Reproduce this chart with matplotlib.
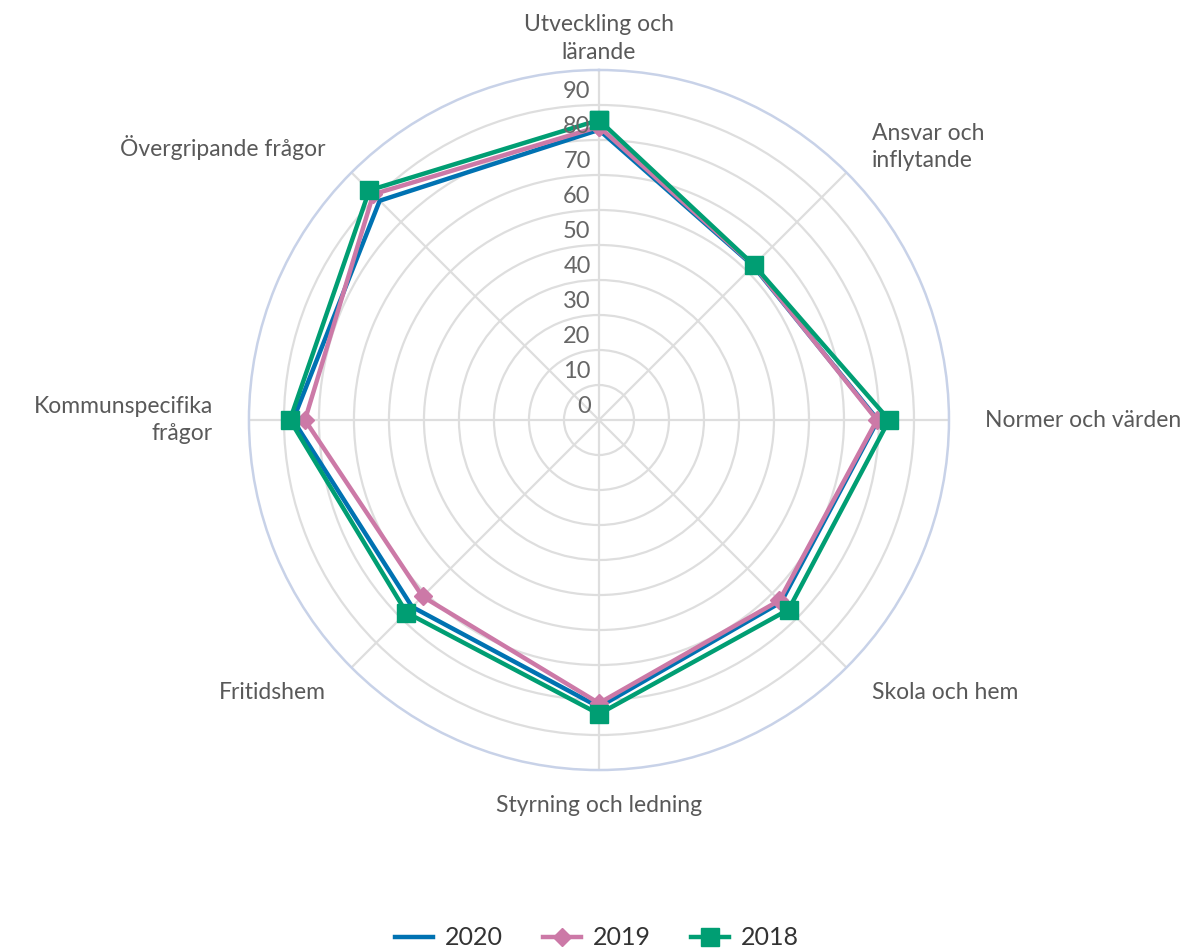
import numpy as np
import matplotlib
matplotlib.use("Agg")
from matplotlib import pyplot as plt

plt.rcParams['font.family'] = ['Lato', 'DejaVu Sans']

categories = ["Utveckling och\nlärande", "Ansvar och\ninflytande", "Normer och värden",
              "Skola och hem", "Styrning och ledning", "Fritidshem",
              "Kommunspecifika\nfrågor", "Övergripande frågor"]
years = ["2020", "2019", "2018"]
values_2020 = [82.9, 62.3, 79.7, 73.6, 82.0, 75.5, 87.4, 88.6]
values_2019 = [83.8, 62.5, 79.4, 72.9, 80.9, 71.3, 84.0, 91.2]
values_2018 = [85.7, 62.6, 82.9, 76.6, 84.0, 77.8, 88.3, 92.8]
rticks = [0, 10, 20, 30, 40, 50, 60, 70, 80, 90]

colors = ["#0072b2", "#cc79a7", "#009e73"]
markers = [None, "D", "s"]
msizes = [0, 9, 13]

n = len(categories)
angles = np.arange(n) * 2 * np.pi / n

fig = plt.figure(figsize=(11.94, 9.51), dpi=100)
ax = fig.add_axes([0.2085, 0.1903, 0.5863, 0.7361], projection='polar')
ax.set_theta_zero_location('N')
ax.set_theta_direction(-1)
ax.set_ylim(0, 100)

ax.set_xticks(angles)
ax.set_xticklabels([])
ax.set_yticks(rticks[1:])
ax.set_yticklabels([])
ax.grid(True, color="#dedede", lw=1.6)
ax.spines['polar'].set_color("#c8d2e8")
ax.spines['polar'].set_linewidth(1.8)

# radial value labels left of the top spoke
for v in rticks:
    ax.annotate(str(v), xy=(0, v), xytext=(-6, 10), textcoords='offset points',
                ha='right', va='center', fontsize=17, color="#666666")

# category labels
for a, lab in zip(angles, categories):
    deg = np.degrees(a)
    if np.isclose(deg, 0):
        ax.text(a, 102, lab, ha='center', va='bottom', fontsize=16.5, color="#595959",
                linespacing=1.4)
    elif np.isclose(deg, 180):
        ax.text(a, 107, lab, ha='center', va='top', fontsize=16.5, color="#595959")
    else:
        ha = 'left' if deg < 180 else 'right'
        ax.text(a, 110.3, lab, ha=ha, va='center', fontsize=16.5, color="#595959",
                linespacing=1.4)

series = [values_2020, values_2019, values_2018]
for vals, yr, c, m, ms in zip(series, years, colors, markers, msizes):
    th = np.append(angles, angles[0])
    r = np.append(vals, vals[0])
    ax.plot(th, r, color=c, lw=3.2, marker=m, markersize=ms, label=yr,
            solid_joinstyle='miter', clip_on=False)

fig.legend(loc='lower center', bbox_to_anchor=(0.5, -0.022), ncol=3, frameon=False,
           fontsize=18, handlelength=1.5, columnspacing=1.6, handletextpad=0.5,
           labelcolor="#333333")

fig.savefig("out.png", dpi=100)
